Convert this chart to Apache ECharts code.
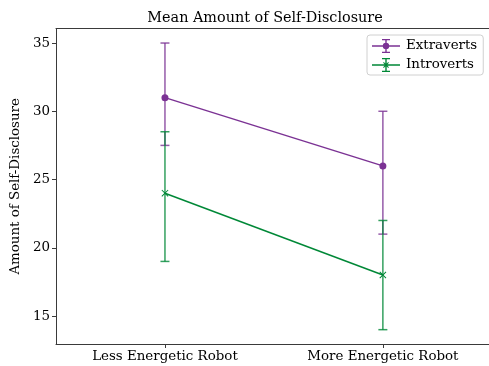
<!DOCTYPE html>
<html>
<head>
<meta charset="utf-8">
<script src="https://cdn.jsdelivr.net/npm/echarts@6/dist/echarts.min.js"></script>
<style>
  html, body { margin: 0; padding: 0; background: #fff; }
  #chart { width: 489px; height: 366px; }
</style>
</head>
<body>
<div id="chart"></div>
<script>
// Robot condition categories
const categories = ['Less Energetic Robot', 'More Energetic Robot'];

// Extraverts: mean and error-bar bounds
const extravertsMean = [31, 26];
const extravertsLow = [27.5, 21];
const extravertsHigh = [35, 30];

// Introverts: mean and error-bar bounds
const introvertsMean = [24, 18];
const introvertsLow = [19, 14];
const introvertsHigh = [28.5, 22];

// Y tick values
const yTicks = [15, 20, 25, 30, 35];

const PURPLE = '#7b3294';
const GREEN = '#008837';
const SPINE = '#3a3a3a';
const FONT = 'DejaVu Serif';

const circleIcon = 'path://M0 6.3H28V7.7H0Z M13.3 0H14.7V14H13.3Z M10 0H18V1.2H10Z M10 12.8H18V14H10Z M17.2 7A3.2 3.2 0 1 1 10.8 7A3.2 3.2 0 1 1 17.2 7Z';
const crossIcon = 'path://M0 6.3H28V7.7H0Z M13.3 0H14.7V14H13.3Z M10 0H18V1.2H10Z M10 12.8H18V14H10Z M11.1 4.8L11.8 4.1L16.9 9.2L16.2 9.9Z M16.2 4.1L16.9 4.8L11.8 9.9L11.1 9.2Z';
const crossSymbol = 'path://M0 1L1 0L10 9L9 10Z M9 0L10 1L1 10L0 9Z';

function errorBarSeries(name, low, high, color) {
  return {
    name: name,
    type: 'custom',
    z: 1,
    data: low.map((l, i) => [i, l, high[i]]),
    encode: { x: 0, y: [1, 2] },
    renderItem: function (params, api) {
      const x = api.value(0);
      const lo = api.coord([x, api.value(1)]);
      const hi = api.coord([x, api.value(2)]);
      const hw = 4.5;
      const style = { stroke: color, lineWidth: 1.5, opacity: 0.8 };
      return {
        type: 'group',
        children: [
          { type: 'line', shape: { x1: lo[0], y1: lo[1], x2: hi[0], y2: hi[1] }, style: style },
          { type: 'line', shape: { x1: lo[0] - hw, y1: lo[1], x2: lo[0] + hw, y2: lo[1] }, style: style },
          { type: 'line', shape: { x1: hi[0] - hw, y1: hi[1], x2: hi[0] + hw, y2: hi[1] }, style: style }
        ]
      };
    }
  };
}

const chart = echarts.init(document.getElementById('chart'), null, { renderer: 'canvas' });

const xMin = -0.5;
const xMax = 1.487;

chart.setOption({
  animation: false,
  backgroundColor: '#fff',
  title: {
    text: 'Mean Amount of Self-Disclosure',
    left: 260,
    textAlign: 'center',
    top: 6,
    textStyle: { fontFamily: FONT, fontSize: 14.4, fontWeight: 'normal', color: '#000' }
  },
  legend: {
    data: [
      { name: 'Extraverts', icon: circleIcon },
      { name: 'Introverts', icon: crossIcon }
    ],
    orient: 'vertical',
    left: 367,
    top: 35,
    itemWidth: 28,
    itemHeight: 14,
    itemGap: 5,
    padding: [4, 6, 3, 5],
    borderColor: '#d0d0d0',
    borderWidth: 1,
    borderRadius: 3,
    backgroundColor: 'rgba(255,255,255,0.8)',
    textStyle: { fontFamily: FONT, fontSize: 13.4, color: '#000', padding: [0, 0, 0, 1] }
  },
  grid: { left: 56, right: 0, top: 28.7, bottom: 22, containLabel: false },
  xAxis: [
    {
      type: 'value',
      min: xMin,
      max: xMax,
      splitLine: { show: false },
      axisLine: { onZero: false, lineStyle: { color: SPINE, width: 1 } },
      axisTick: { customValues: [0, 1], length: 4, lineStyle: { color: SPINE } },
      axisLabel: {
        customValues: [0, 1],
        formatter: v => categories[Math.round(v)],
        fontFamily: FONT, fontSize: 13.4, color: '#000', margin: 6
      }
    },
    {
      // top frame line
      type: 'value',
      position: 'top',
      min: xMin,
      max: xMax,
      splitLine: { show: false },
      axisLine: { show: true, onZero: false, lineStyle: { color: SPINE, width: 1 } },
      axisTick: { show: false },
      axisLabel: { show: false }
    }
  ],
  yAxis: {
    type: 'value',
    min: 12.95,
    max: 36.05,
    name: 'Amount of Self-Disclosure',
    nameLocation: 'middle',
    nameGap: 30,
    nameTextStyle: { fontFamily: FONT, fontSize: 13.4, color: '#000' },
    splitLine: { show: false },
    axisLine: { show: true, onZero: false, lineStyle: { color: SPINE, width: 1 } },
    axisTick: { show: true, customValues: yTicks, length: 4, lineStyle: { color: SPINE } },
    axisLabel: { customValues: yTicks, fontFamily: FONT, fontSize: 13.4, color: '#000', margin: 6 }
  },
  series: [
    errorBarSeries('Extraverts error', extravertsLow, extravertsHigh, PURPLE),
    errorBarSeries('Introverts error', introvertsLow, introvertsHigh, GREEN),
    {
      name: 'Extraverts',
      type: 'line',
      z: 3,
      data: extravertsMean.map((v, i) => [i, v]),
      symbol: 'circle',
      symbolSize: 7,
      lineStyle: { color: PURPLE, width: 1.5 },
      itemStyle: { color: PURPLE }
    },
    {
      name: 'Introverts',
      type: 'line',
      z: 3,
      data: introvertsMean.map((v, i) => [i, v]),
      symbol: crossSymbol,
      symbolSize: 7,
      lineStyle: { color: GREEN, width: 1.5 },
      itemStyle: { color: GREEN }
    }
  ]
});
</script>
</body>
</html>
